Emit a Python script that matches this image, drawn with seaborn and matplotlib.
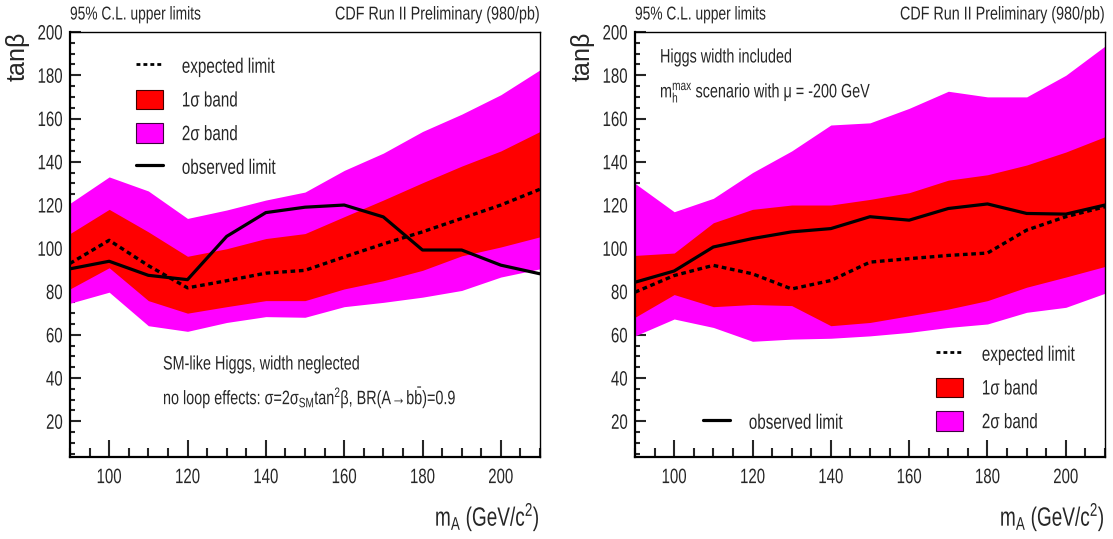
import matplotlib
matplotlib.use("Agg")
import matplotlib.pyplot as plt
from matplotlib.lines import Line2D
from matplotlib.patches import Patch
from matplotlib.patheffects import AbstractPathEffect
from matplotlib.transforms import Affine2D
from matplotlib.ticker import MultipleLocator
import pandas as pd
import seaborn as sns

# Higgs mass points (GeV/c^2)
m_A = [90, 100, 110, 120, 130, 140, 150, 160, 170, 180, 190, 200, 210]

# Width neglected, no loop effects
left_observed = [90.5, 94.0, 87.5, 85.5, 105.5, 116.5, 119.0, 120.0, 114.5, 99.2, 99.2, 92.2, 88.2]
left_expected = [93.0, 103.7, 92.0, 81.7, 85.0, 88.5, 89.8, 96.0, 102.0, 107.6, 113.8, 120.0, 127.3]
left_1s_low = [81.2, 91.0, 75.8, 70.0, 73.0, 75.8, 75.8, 81.2, 85.0, 89.8, 96.5, 100.6, 105.3]
left_1s_high = [106.8, 118.0, 107.6, 96.3, 99.8, 104.5, 106.8, 114.6, 122.3, 130.3, 138.0, 145.0, 154.0]
left_2s_low = [74.6, 79.7, 64.2, 61.6, 65.7, 68.4, 68.1, 73.0, 75.0, 77.4, 80.5, 86.7, 90.5]
left_2s_high = [120.8, 133.0, 126.5, 113.8, 117.7, 122.3, 126.0, 136.0, 144.0, 154.0, 162.0, 171.0, 182.5]

# Higgs width included, m_h^max scenario, mu = -200 GeV
right_observed = [84.3, 89.5, 100.6, 104.5, 107.6, 109.1, 114.6, 113.0, 118.4, 120.5, 116.1, 115.8, 120.0]
right_expected = [79.7, 87.4, 92.1, 88.2, 81.2, 85.1, 93.6, 95.2, 96.7, 97.8, 108.4, 114.6, 119.2]
right_1s_low = [68.1, 78.6, 73.0, 74.0, 73.5, 64.2, 65.7, 68.8, 71.9, 75.8, 82.0, 86.7, 91.6]
right_1s_high = [96.7, 97.8, 111.8, 118.0, 120.0, 120.0, 122.6, 125.7, 131.5, 134.0, 138.5, 144.5, 151.6]
right_2s_low = [59.5, 67.3, 63.4, 57.0, 58.0, 58.4, 59.5, 61.1, 63.4, 65.0, 70.4, 72.7, 79.2]
right_2s_high = [130.0, 116.9, 123.1, 135.0, 145.0, 157.0, 158.0, 164.7, 172.6, 170.0, 170.0, 180.0, 193.5]

RED = "#ff0000"
MAGENTA = "#ff00ff"
DOTS = (0, (1.4, 1.1))
SQUEEZE = 0.74


class Condensed(AbstractPathEffect):
    """Draw text glyphs narrower along the baseline, keeping one edge fixed."""

    def __init__(self, factor=SQUEEZE, anchor="left"):
        super().__init__()
        self.factor = factor
        self.anchor = anchor

    def draw_path(self, renderer, gc, tpath, affine, rgbFace=None):
        ext = tpath.get_extents()
        if self.anchor == "right":
            x0 = ext.x1
        elif self.anchor == "center":
            x0 = 0.5 * (ext.x0 + ext.x1)
        else:
            x0 = 0.0
        squeeze = Affine2D().translate(-x0, 0).scale(self.factor, 1).translate(x0, 0)
        renderer.draw_path(gc, tpath, squeeze + affine, rgbFace)


def narrow(anchor="left", factor=SQUEEZE):
    return [Condensed(factor, anchor)]


sns.set_style("white")
plt.rcParams["font.family"] = ["Liberation Sans", "DejaVu Sans"]
plt.rcParams["mathtext.fontset"] = "custom"
plt.rcParams["mathtext.rm"] = "Liberation Sans"
plt.rcParams["mathtext.it"] = "Liberation Sans"
plt.rcParams["mathtext.bf"] = "Liberation Sans:bold"
plt.rcParams["mathtext.sf"] = "Liberation Sans"

W, H = 1113, 539
fig = plt.figure(figsize=(W / 100, H / 100), dpi=100)


def fx(px):
    return px / W


def fy(py):
    return 1 - py / H


ax_l = fig.add_axes([fx(70), fy(457), fx(470), (457 - 32) / H])
ax_r = fig.add_axes([fx(635), fy(457), fx(470), (457 - 32) / H])


def draw_panel(ax, obs, exp, s1lo, s1hi, s2lo, s2hi):
    df = pd.DataFrame({"mA": m_A, "observed": obs, "expected": exp,
                       "s1lo": s1lo, "s1hi": s1hi, "s2lo": s2lo, "s2hi": s2hi})
    ax.fill_between(df["mA"], df["s2lo"], df["s2hi"], color=MAGENTA, lw=0, zorder=1)
    ax.fill_between(df["mA"], df["s1lo"], df["s1hi"], color=RED, lw=0, zorder=2)
    sns.lineplot(data=df, x="mA", y="expected", ax=ax, color="black", lw=2.4,
                 linestyle=DOTS, zorder=3)
    sns.lineplot(data=df, x="mA", y="observed", ax=ax, color="black", lw=2.3,
                 zorder=4)

    ax.set_xlim(90, 210)
    ax.set_ylim(3.5, 200)
    ax.xaxis.set_major_locator(MultipleLocator(20))
    ax.xaxis.set_minor_locator(MultipleLocator(5))
    ax.yaxis.set_major_locator(MultipleLocator(20))
    ax.yaxis.set_minor_locator(MultipleLocator(5))
    ax.tick_params(axis="x", which="major", direction="in", length=12, width=1.5,
                   pad=8, labelsize=15, top=False, bottom=True)
    ax.tick_params(axis="x", which="minor", direction="in", length=6.5, width=1.5,
                   top=False, bottom=True)
    ax.tick_params(axis="y", which="major", direction="in", length=8, width=1.5,
                   pad=5, labelsize=15, left=True, right=False)
    ax.tick_params(axis="y", which="minor", direction="in", length=3.6, width=1.5,
                   left=True, right=False)
    for side in ("left", "bottom"):
        ax.spines[side].set_linewidth(1.6)
        ax.spines[side].set_color("black")
    for side in ("top", "right"):
        ax.spines[side].set_linewidth(1.0)
        ax.spines[side].set_color("black")
    for lbl in ax.get_xticklabels():
        lbl.set_path_effects(narrow("center", 0.72))
    for lbl in ax.get_yticklabels():
        lbl.set_path_effects(narrow("right", 0.72))

    xl = ax.set_xlabel(r"m$_{\mathrm{A}}$ (GeV/c$^{2}$)", fontsize=19, loc="right", va="center")
    xl.set_path_effects(narrow("right", 0.72))
    ax.xaxis.set_label_coords(1.0, -60 / 425)
    ax.set_ylabel(r"tan$\beta$", fontsize=18, loc="top", va="center")
    ax.yaxis.set_label_coords(-52 / 470, 1.0)

    ax.text(0.0, 1.0 + 17 / 425, "95% C.L. upper limits", transform=ax.transAxes,
            ha="left", va="center", fontsize=13.4, path_effects=narrow("left"))
    ax.text(1.0, 1.0 + 17 / 425, "CDF Run II Preliminary (980/pb)", transform=ax.transAxes,
            ha="right", va="center", fontsize=13.4, path_effects=narrow("right", 0.77))


draw_panel(ax_l, left_observed, left_expected, left_1s_low, left_1s_high,
           left_2s_low, left_2s_high)
draw_panel(ax_r, right_observed, right_expected, right_1s_low, right_1s_high,
           right_2s_low, right_2s_high)

h_exp = Line2D([], [], color="black", lw=2.0, linestyle=DOTS)
h_obs = Line2D([], [], color="black", lw=2.3)
h_1s = Patch(facecolor=RED, edgecolor="#400000", lw=0.8)
h_2s = Patch(facecolor=MAGENTA, edgecolor="#400040", lw=0.8)

legend_kw = dict(frameon=False, borderpad=0, borderaxespad=0, fontsize=15,
                 handlelength=1.3, handleheight=1.05, handletextpad=0.9,
                 labelspacing=0.62, bbox_transform=fig.transFigure, loc="upper left")


def squeeze_legend(leg):
    for t in leg.get_texts():
        t.set_path_effects(narrow("left", 0.73))
    return leg


squeeze_legend(ax_l.legend([h_exp, h_1s, h_2s, h_obs],
                           ["expected limit", "1\u03c3 band", "2\u03c3 band", "observed limit"],
                           bbox_to_anchor=(fx(136), fy(56)), **legend_kw))

leg_r = squeeze_legend(ax_r.legend([h_exp, h_1s, h_2s],
                                   ["expected limit", "1\u03c3 band", "2\u03c3 band"],
                                   bbox_to_anchor=(fx(936), fy(344)), **legend_kw))
ax_r.add_artist(leg_r)
squeeze_legend(ax_r.legend([h_obs], ["observed limit"],
                           bbox_to_anchor=(fx(703), fy(412)), **legend_kw))

note_kw = dict(transform=fig.transFigure, ha="left", va="center", fontsize=14,
               path_effects=narrow("left"))
ax_l.text(fx(163), fy(365), "SM-like Higgs, width neglected", **note_kw)
ax_l.text(fx(163), fy(398),
          r"no loop effects: $\sigma$=2$\sigma_{\mathrm{SM}}$tan$^{2}\beta$, "
          r"BR(A$\!\rightarrow\!$b$\bar{\mathrm{b}}$)=0.9", **note_kw)
ax_r.text(fx(660), fy(58), "Higgs width included", **note_kw)
ax_r.text(fx(660), fy(93), r"m$_{\mathrm{h}}^{\mathrm{max}}$ scenario with $\mu$ = -200 GeV",
          **note_kw)

fig.savefig("out.png", dpi=100)
